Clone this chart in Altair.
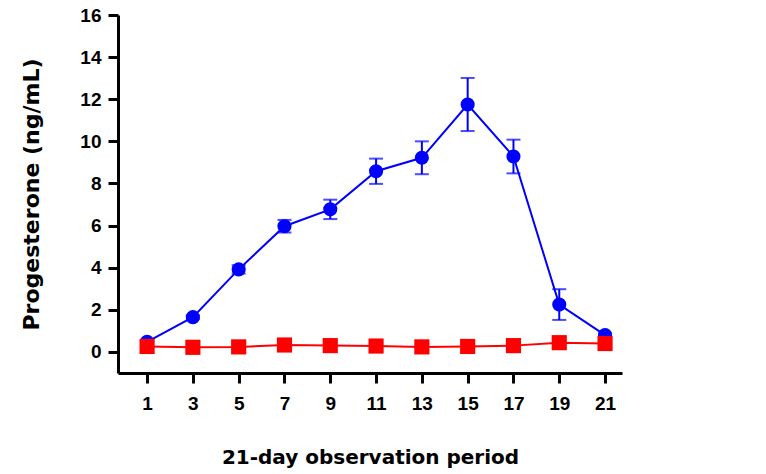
import altair as alt
import pandas as pd

days = [1, 3, 5, 7, 9, 11, 13, 15, 17, 19, 21]
blue_mean = [0.48, 1.65, 3.92, 5.97, 6.77, 8.58, 9.22, 11.75, 9.28, 2.25, 0.8]
blue_err = [0.05, 0.08, 0.2, 0.3, 0.46, 0.6, 0.78, 1.26, 0.8, 0.73, 0.08]
red_mean = [0.26, 0.22, 0.24, 0.33, 0.3, 0.28, 0.24, 0.26, 0.3, 0.44, 0.4]

blue = pd.DataFrame({"day": days, "val": blue_mean,
                     "lo": [m - e for m, e in zip(blue_mean, blue_err)],
                     "hi": [m + e for m, e in zip(blue_mean, blue_err)]})
red = pd.DataFrame({"day": days, "val": red_mean})

xs = alt.Scale(domain=[-0.27, 21.74], nice=False, zero=False)
ys = alt.Scale(domain=[-1, 16], nice=False, zero=False)

xax = alt.Axis(values=days, title="21-day observation period", grid=False,
               tickSize=10, tickWidth=3, tickColor="black", domainColor="black",
               domainWidth=3, labelFont="Liberation Sans", labelFontWeight="bold",
               labelFontSize=19, labelColor="black", labelPadding=11,
               titleFont="DejaVu Sans", titleFontWeight="bold", titleFontSize=20,
               titleColor="black", titlePadding=34)
yax = alt.Axis(values=list(range(0, 17, 2)), title="Progesterone (ng/mL)", grid=False,
               tickSize=10, tickWidth=3, tickColor="black", domainColor="black",
               domainWidth=3, labelFont="Liberation Sans", labelFontWeight="bold",
               labelFontSize=19, labelColor="black", labelPadding=7,
               titleFont="DejaVu Sans", titleFontWeight="bold", titleFontSize=22,
               titleColor="black", titlePadding=36)

def X():
    return alt.X("day:Q", scale=xs, axis=xax)

def Y(f):
    return alt.Y(f"{f}:Q", scale=ys, axis=yax)

bbase = alt.Chart(blue)
b_rule = bbase.mark_rule(color="#0000FF", strokeWidth=2).encode(x=X(), y=Y("lo"), y2="hi:Q")
b_cap_hi = bbase.mark_tick(color="#0000FF", thickness=2, size=14, orient="horizontal").encode(x=X(), y=Y("hi"))
b_cap_lo = bbase.mark_tick(color="#0000FF", thickness=2, size=14, orient="horizontal").encode(x=X(), y=Y("lo"))
b_line = bbase.mark_line(color="#0000FF", strokeWidth=2).encode(x=X(), y=Y("val"))
b_pts = bbase.mark_point(shape="circle", filled=True, color="#0000FF", size=200, opacity=1).encode(x=X(), y=Y("val"))

rbase = alt.Chart(red)
r_line = rbase.mark_line(color="#FF0000", strokeWidth=2).encode(x=X(), y=Y("val"))
r_pts = rbase.mark_point(shape="square", filled=True, color="#FF0000", size=230, opacity=1).encode(x=X(), y=Y("val"))

chart = alt.layer(b_line, b_rule, b_cap_hi, b_cap_lo, b_pts, r_line, r_pts).properties(
    width=504, height=358,
    background="white",
    autosize=alt.AutoSizeParams(type="none"),
    padding={"left": 118, "top": 15, "right": 144, "bottom": 101},
).configure_view(stroke=None)

chart.save("out.html", embed_options={"renderer": "svg", "actions": False})
